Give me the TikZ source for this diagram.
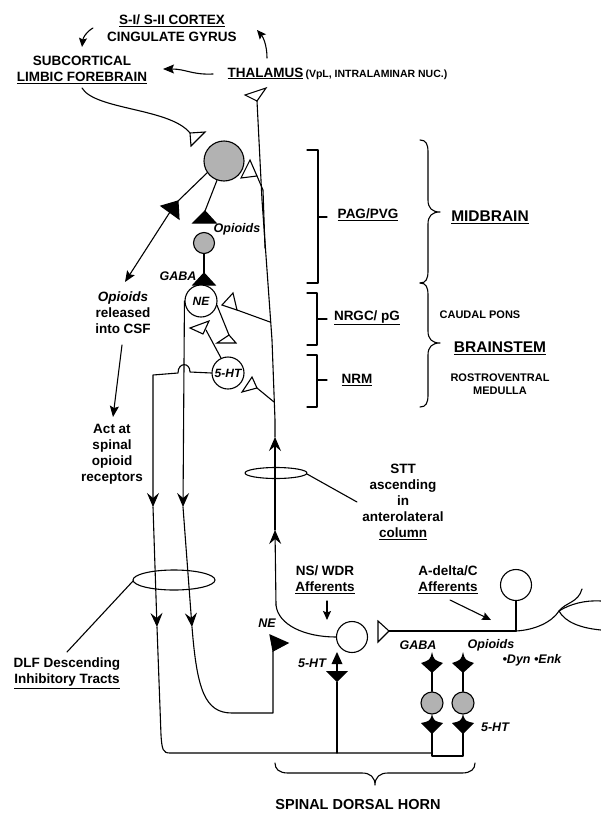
\documentclass[tikz,border=0pt]{standalone}
\usepackage{fontspec}
\setmainfont{Liberation Sans}
\usetikzlibrary{arrows.meta}
\begin{document}
\begin{tikzpicture}[x=1pt,y=-1pt,line width=1.1pt,line cap=round,line join=round,
  lbl/.style={font=\fontsize{13.5}{16}\selectfont\bfseries,align=center,inner sep=0pt},
  lab/.style={font=\fontsize{12.5}{14}\selectfont\bfseries\itshape,inner sep=0pt},
  sml/.style={font=\fontsize{11}{13}\selectfont\bfseries,align=center,inner sep=0pt},
  big/.style={font=\fontsize{15.5}{18}\selectfont\bfseries,inner sep=0pt},
  cell/.style={circle,draw,fill=black!30,inner sep=0pt},
  wcell/.style={circle,draw,fill=white,inner sep=0pt},
  otri/.style={draw,fill=white,line join=miter},
  ftri/.style={draw,fill=black,line join=miter},
  bigarr/.style={-{Stealth[length=14pt,width=12pt,inset=5pt]}},
  arr/.style={-{Stealth[length=11pt,width=9pt,inset=2pt]}},
  sarr/.style={-{Stealth[length=9pt,width=8pt,inset=1.5pt]}}]
\useasboundingbox (0,0) rectangle (601,814);

% ---------- top labels ----------
\node[lbl] (cortex) at (172,21) {\underline{S-I/ S-II CORTEX}};
\node[lbl] (cing) at (172,37) {CINGULATE GYRUS};
\node[lbl] (limbic) at (82,70) {SUBCORTICAL\\\underline{LIMBIC FOREBRAIN}};
\node[lbl,anchor=base west] (thal) at (227,77) {\underline{THALAMUS}\,{\fontsize{10.5}{12}\selectfont(VpL, INTRALAMINAR NUC.)}};

\coordinate (c1) at (93,28); \coordinate (c2) at (82,47);
\draw[sarr] (c1) .. controls (86,32) and (83,38) .. (c2);
\coordinate (c3) at (267,58); \coordinate (c4) at (257,30);
\draw[sarr] (c3) .. controls (267,45) and (263,37) .. (c4);
\coordinate (c5) at (213,74); \coordinate (c6) at (163,69);
\draw[arr] (c5) .. controls (192,75) and (186,69) .. (c6);

% limbic projection
\coordinate (l1) at (82,88); \coordinate (l2) at (190,133);
\draw (l1) .. controls (95,110) and (170,108) .. (l2);
\draw[otri] (l2) -- (205,132) -- (191,146) -- cycle;

% thalamus terminal and STT
\coordinate (st0) at (257,101);
\draw[otri] (245,95) -- (266,88) -- (st0) -- cycle;
\draw (st0) -- (262,200) -- (272,340) -- (275,420) -- (275,437);
\draw[bigarr] (275,530) -- (275,437);
\draw[bigarr] (276,605) -- (275,530);

% collateral to PAG
\coordinate (cl) at (257,176);
\draw (265,248) -- (263,190) -- (cl);
\draw[otri] (cl) -- (250,160) -- (241,178) -- cycle;

% ---------- PAG ----------
\node[cell,minimum size=40pt] (pag) at (224,161) {};
\coordinate (t1) at (178,201);
\draw (pag.215) -- (t1);
\draw[ftri] (t1) -- (161,206) -- (179,219) -- cycle;
\coordinate (t1b) at (170,212); \coordinate (csfa) at (125,282);
\draw[arr] (t1b) -- (csfa);

\coordinate (t2) at (205,211);
\draw (pag.250) -- (t2);
\draw[ftri] (t2) -- (216,223) -- (193,223) -- cycle;
\node[lab] (op1) at (237,229) {Opioids};
\node[cell,minimum size=21pt] (opc) at (204,243) {};
\coordinate (t3) at (204,273);
\draw (opc.south) -- (t3);
\draw[ftri] (t3) -- (215,285) -- (193,285) -- cycle;
\node[lab] (gaba1) at (178,276) {GABA};

% ---------- NE and 5-HT ----------
\node[wcell,minimum size=32pt,font=\fontsize{12}{14}\selectfont\bfseries\itshape] (ne) at (201,301) {NE};
\node[wcell,minimum size=32pt,font=\fontsize{12}{14}\selectfont\bfseries\itshape] (ht) at (228,373) {5-HT};

% STT -> NE
\coordinate (s1) at (270,322); \coordinate (s1t) at (237,310);
\draw (s1) -- (s1t);
\draw[otri] (s1t) -- (233,293) -- (222,305) -- cycle;
% NE -> 5-HT
\coordinate (n1) at (229,335);
\draw (ne.-15) -- (n1);
\draw[otri] (n1) -- (236,343) -- (217,343) -- cycle;
% 5-HT -> NE
\coordinate (h1) at (206,330);
\draw (ht.115) -- (h1);
\draw[otri] (209,321) -- (203,334) -- (190,328) -- cycle;
% STT -> 5-HT
\coordinate (s2) at (274,402); \coordinate (s2t) at (257,388);
\draw (s2) -- (s2t);
\draw[otri] (s2t) -- (252,377) -- (242,392) -- cycle;

% 5-HT descending pathway
\draw[bigarr] (ht.west) -- (190,372) .. controls (190,362) and (178,362) .. (178,373) -- (153,375) -- (153,507);
\draw[bigarr] (153,507) -- (157,627);
\coordinate (bl) at (170,753); \coordinate (br) at (432,753);
\draw (157,627) -- (161,735) .. controls (162,750) and (163,753) .. (bl) -- (br);

% NE descending pathway
\draw[bigarr] (ne.west) -- (183,507);
\draw[bigarr] (183,507) -- (192,627);
\coordinate (nt) at (273,651);
\draw (192,627) .. controls (197,690) and (205,713) .. (232,713) -- (273,713) -- (nt);
\draw[ftri] (270,635) -- (288,643) -- (nt) -- cycle;
\node[lab] (nelab) at (267,623) {NE};

% ---------- CSF text ----------
\node[lbl] (csf) at (123,313) {\textit{Opioids}\\released\\into CSF};
\coordinate (a1) at (122,345); \coordinate (a2) at (113,417);
\draw[arr] (a1) -- (a2);
\node[lbl] (act) at (112,454) {Act at\\spinal\\opioid\\receptors};

% ---------- tract ellipses ----------
\draw (174,580) ellipse [x radius=41pt,y radius=10pt];
\coordinate (e1) at (133,581); \coordinate (e2) at (67,652);
\draw (e1) -- (e2);
\node[lbl] (dlf) at (67,673) {DLF Descending\\\underline{Inhibitory Tracts}};

\draw (276,473) ellipse [x radius=31pt,y radius=5.5pt];
\coordinate (e3) at (307,474); \coordinate (e4) at (357,502);
\draw (e3) -- (e4);
\node[lbl] (stt) at (403,502) {STT\\ascending\\in\\anterolateral\\\underline{column}};

% ---------- brackets ----------
\draw (307,150) -- (318,150) -- (318,283) -- (307,283);
\draw (318,217) -- (327,217);
\node[lbl] (pagl) at (368,215) {\underline{PAG/PVG}};
\draw (307,293) -- (317,293) -- (317,345) -- (307,345);
\draw (317,319) -- (327,319);
\node[lbl] (nrgc) at (367,318) {\underline{NRGC/ pG}};
\draw (307,355) -- (317,355) -- (317,407) -- (307,407);
\draw (317,380) -- (327,380);
\node[lbl] (nrm) at (357,380) {\underline{NRM}};

% ---------- braces ----------
\draw (420,140) .. controls (426,140) and (428,144) .. (428,152) -- (428,200)
      .. controls (428,208) and (432,212) .. (440,212)
      .. controls (432,212) and (428,216) .. (428,224) -- (428,271)
      .. controls (428,279) and (426,283) .. (420,283);
\draw (420,283) .. controls (426,283) and (428,287) .. (428,295) -- (428,331)
      .. controls (428,339) and (432,343) .. (440,343)
      .. controls (432,343) and (428,347) .. (428,355) -- (428,395)
      .. controls (428,403) and (426,407) .. (420,407);
\node[big] (mid) at (490,217) {\underline{MIDBRAIN}};
\node[sml] (pons) at (480,315) {CAUDAL PONS};
\node[big] (bs) at (500,348) {\underline{BRAINSTEM}};
\node[sml] (rvm) at (500,384) {ROSTROVENTRAL\\MEDULLA};

% ---------- dorsal horn ----------
\node[wcell,minimum size=31pt] (nsw) at (352,637) {};
\draw (276,605) .. controls (278,625) and (305,637) .. (nsw.west);
\node[lbl] (nsl) at (325,580) {NS/ WDR\\\underline{Afferents}};
\coordinate (a3) at (327,601); \coordinate (a4) at (327,620);
\draw[sarr] (a3) -- (a4);
\node[lbl] (adl) at (448,580) {A-delta/C\\\underline{Afferents}};
\coordinate (a5) at (450,600); \coordinate (a6) at (491,620);
\draw[sarr] (a5) -- (a6);

\coordinate (tp) at (389,631); \coordinate (aj) at (516,631);
\draw[otri] (378,621) -- (tp) -- (378,642) -- cycle;
\draw (tp) -- (aj);
\node[wcell,minimum size=31pt] (aff) at (516,585) {};
\draw (aff.south) -- (aj);
\coordinate (jn) at (559,611);
\draw (aj) .. controls (535,630) and (552,622) .. (jn);
\draw (jn) .. controls (566,602) and (578,603) .. (582,589);
\draw (jn) .. controls (570,604) and (585,600) .. (601,601);
\draw (jn) .. controls (565,622) and (580,628) .. (601,630);

% 5-HT onto NS/WDR
\coordinate (h5) at (337,682);
\draw (337,753) -- (h5);
\fill (h5) -- (326,671) -- (348,671) -- cycle;
\draw (337,671) -- (337,662);
\fill (337,652) -- (342.5,664) -- (331.5,664) -- cycle;
\node[lab] (ht2) at (312,663) {5-HT};

% interneuron stacks
\foreach \x/\n in {432/g1,463/g2}{
  \fill (\x,652) .. controls (\x+2,660) .. (\x+11,663) -- (\x,673) -- (\x-11,663) .. controls (\x-2,660) .. cycle;
  \node[cell,minimum size=22pt] (\n) at (\x,703) {};
  \draw (\x,672) -- (\n.north);
  \fill (\x,714) .. controls (\x+2,721) .. (\x+11,723) -- (\x,734) -- (\x-11,723) .. controls (\x-2,721) .. cycle;
}
\draw (432,733) -- (432,756) -- (463,756) -- (463,733);
\node[lab] (gaba2) at (418,645) {GABA};
\node[lab] (op2) at (491,645) {Opioids};
\node[lab] (dyn) at (532,660) {•Dyn •Enk};
\node[lab] (ht3) at (495,727) {5-HT};

% bottom brace
\draw (275,763) .. controls (275,769) and (279,773) .. (288,773) -- (362,773)
      .. controls (370,773) and (375,777) .. (375,785)
      .. controls (375,777) and (380,773) .. (388,773) -- (462,773)
      .. controls (471,773) and (475,769) .. (475,763);
\node[font=\fontsize{14.5}{16}\selectfont\bfseries,inner sep=0pt] (sdh) at (358,804) {SPINAL DORSAL HORN};
\end{tikzpicture}
\end{document}
